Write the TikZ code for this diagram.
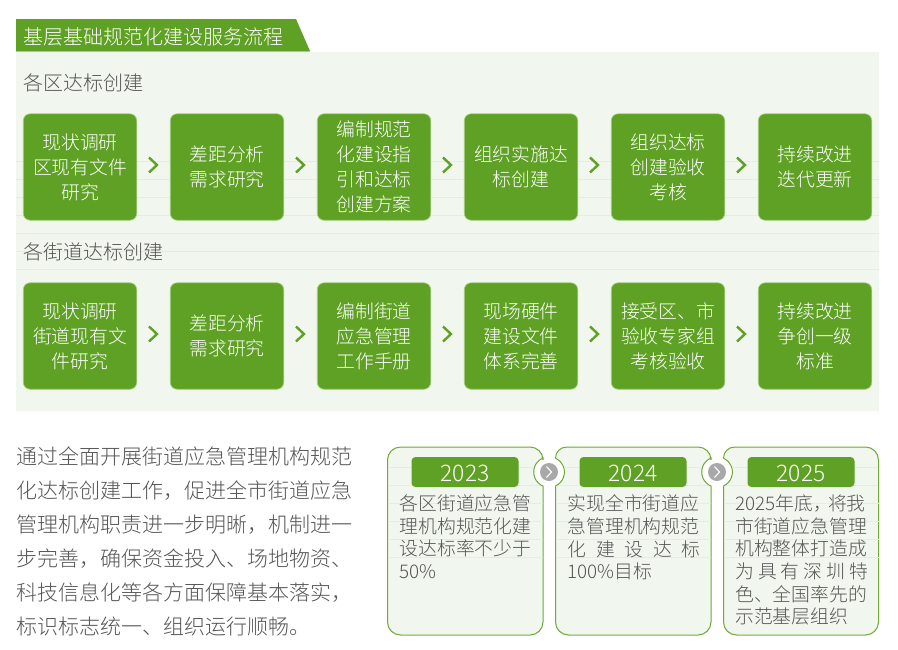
\documentclass[tikz,border=0pt]{standalone}
\usepackage{fontspec}
\setmainfont{Noto Sans CJK SC}[UprightFont=* Light]
\XeTeXlinebreaklocale "zh"
\XeTeXlinebreakskip=0pt plus 1pt
\definecolor{gr}{HTML}{5FA124}
\definecolor{grl}{HTML}{A5CF7F}
\definecolor{pan}{HTML}{F1F6EE}
\definecolor{rul}{HTML}{E4EEDD}
\definecolor{tx}{HTML}{555555}
\tikzset{x=1pt,y=-1pt,
 stepbox/.style={fill=gr,draw=grl,line width=.6pt,rounded corners=7pt,minimum width=113.5pt,minimum height=106.5pt,inner sep=0pt,text=white,align=center,font=\fontsize{18.8}{25}\selectfont,execute at begin node={\rule{0pt}{24pt}}},
 head/.style={text=tx,anchor=west,inner sep=0pt,font=\fontsize{20}{24}\selectfont},
 chev/.style={draw=gr,line width=2.4pt,line join=miter},
 yearbox/.style={fill=gr,rounded corners=4pt,minimum width=107pt,minimum height=30pt,inner sep=0pt,text=white,text height=18.4pt,text depth=0pt,font=\fontsize{22.8}{26}\selectfont},
 cardtext/.style={anchor=north west,inner sep=0pt,text=tx,text width=133pt,font=\fontsize{18.8}{22.7}\selectfont},
 card/.style={draw=gr!80!grl,line width=1pt,fill=pan},
 cardrule/.style={draw=rul,line width=.6pt},
 dot/.style={circle,fill=black!34,minimum size=18pt,inner sep=0pt}
}
\begin{document}
\begin{tikzpicture}
\useasboundingbox (0,0) rectangle (898,649);
\fill[white] (0,0) rectangle (898,649);
% panel
\fill[pan] (16,52) rectangle (879,411);
\foreach \y in {161,179,197,215,233,251,269} \draw[rul,line width=.6pt] (16,\y) -- (879,\y);
% title
\fill[gr] (16,19) -- (296,19) -- (310,51) -- (16,51) -- cycle;
\draw[grl,line width=.8pt] (16,51.5) -- (310,51.5);
\node[anchor=west,inner sep=0pt,text=white,font=\fontsize{20}{24}\selectfont] (title) at (23.5,36.5) {基层基础规范化建设服务流程};
\node[head] (h1) at (23,83) {各区达标创建};
\node[head] (h2) at (23,252) {各街道达标创建};
% row 1
\node[stepbox] (a1) at (80,167) {现状调研\\区现有文件\\研究};
\node[stepbox] (a2) at (227,167) {差距分析\\需求研究};
\node[stepbox] (a3) at (374,167) {编制规范\\化建设指\\引和达标\\创建方案};
\node[stepbox] (a4) at (521,167) {组织实施达\\标创建};
\node[stepbox] (a5) at (668,167) {组织达标\\创建验收\\考核};
\node[stepbox] (a6) at (815,167) {持续改进\\迭代更新};
% row 2
\node[stepbox] (b1) at (80,336) {现状调研\\街道现有文\\件研究};
\node[stepbox] (b2) at (227,336) {差距分析\\需求研究};
\node[stepbox] (b3) at (374,336) {编制街道\\应急管理\\工作手册};
\node[stepbox] (b4) at (521,336) {现场硬件\\建设文件\\体系完善};
\node[stepbox] (b5) at (668,336) {接受区、市\\验收专家组\\考核验收};
\node[stepbox] (b6) at (815,336) {持续改进\\争创一级\\标准};
\foreach \x in {149,296,443,590,737} {
 \draw[chev] (\x,157.5) -- (\x+8,165) -- (\x,172.5);
 \draw[chev] (\x,326.5) -- (\x+8,334) -- (\x,341.5);
}
% left text
\node[anchor=north west,inner sep=0pt,text=tx,align=left,font=\fontsize{21}{34}\selectfont] (para) at (16,447) {通过全面开展街道应急管理机构规范\\化达标创建工作，促进全市街道应急\\管理机构职责进一步明晰，机制进一\\步完善，确保资金投入、场地物资、\\科技信息化等各方面保障基本落实，\\标识标志统一、组织运行顺畅。};
% cards
\draw[card] (400.5,447) -- (530,447) arc[start angle=270,end angle=360,radius=13] -- (543,458)
  arc[start angle=247,end angle=113,radius=15.23] -- (543,622) arc[start angle=0,end angle=90,radius=13] -- (400.5,635) arc[start angle=90,end angle=180,radius=13] -- (387.5,460) arc[start angle=180,end angle=270,radius=13] -- cycle;
\draw[card] (568.5,447) -- (698,447) arc[start angle=270,end angle=360,radius=13] -- (711,458)
  arc[start angle=247,end angle=113,radius=15.23] -- (711,622) arc[start angle=0,end angle=90,radius=13] -- (568.5,635) arc[start angle=90,end angle=180,radius=13] -- (555.5,486)
  arc[start angle=65,end angle=-65,radius=15.43] arc[start angle=180,end angle=270,radius=11] -- cycle;
\draw[card] (736.5,447) -- (865.5,447) arc[start angle=270,end angle=360,radius=13] -- (878.5,622) arc[start angle=0,end angle=90,radius=13] -- (736.5,635) arc[start angle=90,end angle=180,radius=13] -- (723.5,486)
  arc[start angle=65,end angle=-65,radius=15.43] arc[start angle=180,end angle=270,radius=11] -- cycle;
\foreach \x in {0,168,336} {
 \draw[cardrule] (\x+388,503) -- (\x+542.5,503) (\x+388,521) -- (\x+542.5,521) (\x+388,539) -- (\x+542.5,539) (\x+388,557) -- (\x+542.5,557);
}
\draw[cardrule] (388,467) -- (534,467) (388,485) -- (540,485)
  (563.5,467) -- (702,467) (558.5,485) -- (708,485)
  (731.5,467) -- (878,467) (726.5,485) -- (878,485);
\draw[grl,line width=1pt] (400,635) -- (530,635) (568,635) -- (698,635) (736,635) -- (866,635);
\node[yearbox] (y1) at (465,472) {2023};
\node[yearbox] (y2) at (633,472) {2024};
\node[yearbox] (y3) at (801,472) {2025};
\node[cardtext] (c1) at (399.5,494.5) {各区街道应急管\\理机构规范化建\\设达标率不少于\\50\%};
\node[cardtext] (c2) at (567.5,494.5) {实现全市街道应\\急管理机构规范\\化\hfill 建\hfill 设\hfill 达\hfill 标\\100\%目标};
\node[cardtext] (c3) at (735,494.5) {2025年底\makebox[.6em][l]{，}\hspace{.2em}将我\\市街道应急管理\\机构整体打造成\\为\hfill 具\hfill 有\hfill 深\hfill 圳\hfill 特\\色、全国率先的\\示范基层组织};
\node[dot] (d1) at (549,472) {};
\node[dot] (d2) at (717,472) {};
\draw[white,line width=1.1pt] (546.5,466.5) -- (551.5,472) -- (546.5,477.5);
\draw[white,line width=1.1pt] (714.5,466.5) -- (719.5,472) -- (714.5,477.5);
\end{tikzpicture}
\end{document}
